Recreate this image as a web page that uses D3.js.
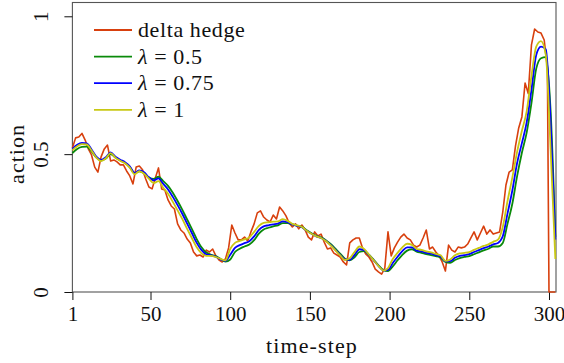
<!DOCTYPE html>
<html>
<head>
<meta charset="utf-8">
<script src="https://cdn.jsdelivr.net/npm/d3@7/dist/d3.min.js"></script>
<style>
  html, body { margin: 0; padding: 0; background: #fff; }
  svg { display: block; }
  svg text { font-family: "Liberation Serif", "DejaVu Serif", serif; fill: #111; }
</style>
</head>
<body>
<svg id="chart" width="564" height="363"></svg>
<script>
// Hedge action over time-steps: delta hedge vs. learned policies for several λ.
const seriesNames = ["delta hedge", "λ = 0.5", "λ = 0.75", "λ = 1"];
const seriesColors = ["#d8400e", "#0a8a0a", "#0000ff", "#c8c814"];

const xTicks = [1, 50, 100, 150, 200, 250, 300];
const yTicks = [0, 0.5, 1];
const yTickLabels = ["0", "0.5", "1"];

// delta hedge, sampled every 2 steps (t = 1, 3, ..., 299) then 300, 302, 304
const tDelta = d3.range(1, 300, 2).concat([300, 302, 304]);
const deltaHedge = [
  0.522, 0.559, 0.562, 0.575, 0.551, 0.519, 0.497, 0.453, 0.435, 0.490,
  0.519, 0.533, 0.475, 0.479, 0.472, 0.461, 0.461, 0.439, 0.421, 0.392,
  0.453, 0.457, 0.443, 0.410, 0.381, 0.374, 0.413, 0.450, 0.374, 0.370,
  0.334, 0.312, 0.301, 0.247, 0.225, 0.214, 0.192, 0.178, 0.145, 0.131,
  0.134, 0.127, 0.152, 0.145, 0.156, 0.131, 0.116, 0.109, 0.120, 0.160,
  0.243, 0.214, 0.189, 0.189, 0.199, 0.185, 0.218, 0.247, 0.287, 0.294,
  0.272, 0.261, 0.254, 0.279, 0.265, 0.308, 0.294, 0.276, 0.250, 0.236,
  0.247, 0.229, 0.243, 0.225, 0.199, 0.189, 0.218, 0.203, 0.210, 0.181,
  0.156, 0.160, 0.141, 0.134, 0.127, 0.109, 0.098, 0.178, 0.189, 0.196,
  0.196, 0.160, 0.138, 0.127, 0.109, 0.083, 0.073, 0.065, 0.087, 0.218,
  0.131, 0.160, 0.181, 0.199, 0.210, 0.196, 0.189, 0.170, 0.163, 0.170,
  0.196, 0.225, 0.156, 0.163, 0.145, 0.131, 0.109, 0.076, 0.170, 0.152,
  0.145, 0.163, 0.160, 0.163, 0.174, 0.196, 0.218, 0.189, 0.214, 0.239,
  0.210, 0.225, 0.210, 0.214, 0.218, 0.290, 0.388, 0.435, 0.443, 0.530,
  0.595, 0.635, 0.758, 0.720, 0.896, 0.954, 0.943, 0.939, 0.914, 0.812,
  0.000, 0.000, 0.000
];

// learned policies, sampled every 3 steps (t = 1, 4, ..., 304)
const tPolicy = d3.range(1, 305, 3);
const lambda05 = [
  0.504, 0.519, 0.526, 0.527, 0.510, 0.488, 0.477, 0.484, 0.500, 0.488,
  0.477, 0.468, 0.453, 0.431, 0.438, 0.431, 0.415, 0.410, 0.418, 0.402,
  0.385, 0.360, 0.330, 0.298, 0.263, 0.228, 0.192, 0.162, 0.143, 0.135,
  0.130, 0.120, 0.110, 0.118, 0.145, 0.157, 0.165, 0.172, 0.188, 0.212,
  0.227, 0.233, 0.238, 0.242, 0.250, 0.250, 0.245, 0.241, 0.236, 0.224,
  0.213, 0.204, 0.198, 0.188, 0.174, 0.157, 0.139, 0.121, 0.115, 0.126,
  0.145, 0.148, 0.135, 0.117, 0.097, 0.080, 0.076, 0.093, 0.115, 0.135,
  0.150, 0.155, 0.146, 0.142, 0.137, 0.134, 0.130, 0.125, 0.109, 0.106,
  0.116, 0.123, 0.127, 0.130, 0.137, 0.144, 0.151, 0.157, 0.165, 0.165,
  0.178, 0.248, 0.320, 0.420, 0.505, 0.578, 0.685, 0.810, 0.848, 0.852,
  0.660, 0.200
];
const lambda075 = [
  0.519, 0.534, 0.541, 0.539, 0.517, 0.491, 0.479, 0.489, 0.506, 0.491,
  0.480, 0.471, 0.456, 0.432, 0.441, 0.434, 0.416, 0.405, 0.412, 0.392,
  0.372, 0.345, 0.315, 0.283, 0.248, 0.213, 0.178, 0.152, 0.137, 0.133,
  0.128, 0.118, 0.113, 0.135, 0.160, 0.170, 0.177, 0.184, 0.202, 0.225,
  0.238, 0.242, 0.245, 0.248, 0.256, 0.253, 0.245, 0.240, 0.235, 0.222,
  0.211, 0.202, 0.196, 0.186, 0.171, 0.153, 0.135, 0.118, 0.117, 0.135,
  0.155, 0.152, 0.135, 0.115, 0.095, 0.078, 0.080, 0.105, 0.128, 0.148,
  0.162, 0.162, 0.150, 0.147, 0.142, 0.139, 0.134, 0.129, 0.111, 0.112,
  0.124, 0.131, 0.134, 0.137, 0.145, 0.152, 0.159, 0.165, 0.173, 0.178,
  0.202, 0.285, 0.368, 0.468, 0.540, 0.615, 0.733, 0.860, 0.890, 0.880,
  0.620, 0.190
];
const lambda1 = [
  0.514, 0.529, 0.536, 0.535, 0.513, 0.487, 0.475, 0.485, 0.504, 0.487,
  0.476, 0.467, 0.451, 0.427, 0.438, 0.429, 0.411, 0.395, 0.402, 0.378,
  0.356, 0.327, 0.296, 0.264, 0.229, 0.195, 0.162, 0.140, 0.131, 0.131,
  0.127, 0.120, 0.115, 0.156, 0.178, 0.185, 0.191, 0.198, 0.218, 0.240,
  0.251, 0.253, 0.255, 0.256, 0.264, 0.258, 0.247, 0.242, 0.236, 0.222,
  0.211, 0.202, 0.196, 0.185, 0.169, 0.151, 0.133, 0.116, 0.122, 0.145,
  0.165, 0.156, 0.136, 0.115, 0.095, 0.078, 0.087, 0.120, 0.142, 0.162,
  0.175, 0.171, 0.156, 0.153, 0.147, 0.144, 0.138, 0.133, 0.113, 0.118,
  0.133, 0.140, 0.142, 0.145, 0.153, 0.160, 0.167, 0.173, 0.182, 0.190,
  0.236, 0.330, 0.415, 0.508, 0.585, 0.655, 0.783, 0.890, 0.910, 0.860,
  0.520, 0.120
];

const FONT = "'Liberation Serif', 'DejaVu Serif', serif";
const svg = d3.select("#chart");

const x = d3.scaleLinear().domain([1, 304.4]).range([72.4, 556]);
const y = d3.scaleLinear().domain([0, 1.05]).range([292, 2.5]);

// frame
svg.append("rect")
  .attr("x", x.range()[0]).attr("y", y.range()[1])
  .attr("width", x.range()[1] - x.range()[0])
  .attr("height", y.range()[0] - y.range()[1])
  .attr("fill", "none").attr("stroke", "#555").attr("stroke-width", 1.1);

// x axis (ticks point outward)
const xAxis = d3.axisBottom(x).tickValues(xTicks).tickSize(8).tickPadding(6);
const gx = svg.append("g").attr("transform", `translate(0,${y(0)})`).call(xAxis)
  .attr("font-family", FONT).attr("font-size", 21);
gx.select(".domain").remove();
gx.selectAll(".tick line").attr("stroke", "#111").attr("stroke-width", 1);
gx.selectAll(".tick text").attr("fill", "#111");

// y axis with rotated labels
const yAxis = d3.axisLeft(y).tickValues(yTicks).tickSize(8).tickFormat((d, i) => yTickLabels[i]);
const gy = svg.append("g").attr("transform", `translate(${x(1)},0)`).call(yAxis)
  .attr("font-family", FONT).attr("font-size", 21);
gy.select(".domain").remove();
gy.selectAll(".tick line").attr("stroke", "#111").attr("stroke-width", 1);
gy.selectAll(".tick text")
  .attr("fill", "#111")
  .attr("x", null).attr("dy", null)
  .attr("text-anchor", "middle")
  .attr("transform", "translate(-24,0) rotate(-90)");

// axis titles
svg.append("text")
  .attr("x", 312).attr("y", 353)
  .attr("text-anchor", "middle").attr("font-size", 22).attr("font-family", FONT)
  .attr("letter-spacing", 1.1)
  .text("time-step");
svg.append("text")
  .attr("transform", "translate(24,154) rotate(-90)")
  .attr("text-anchor", "middle").attr("font-size", 22).attr("font-family", FONT)
  .attr("letter-spacing", 1)
  .text("action");

// series lines
const plotSeries = [
  { t: tDelta, v: deltaHedge, color: seriesColors[0], w: 1.6 },
  { t: tPolicy, v: lambda05, color: seriesColors[1], w: 1.8 },
  { t: tPolicy, v: lambda075, color: seriesColors[2], w: 1.8 },
  { t: tPolicy, v: lambda1, color: seriesColors[3], w: 1.8 }
];
const line = d3.line().x(d => x(d[0])).y(d => y(d[1]));
const smooth = d3.line().x(d => x(d[0])).y(d => y(d[1])).curve(d3.curveMonotoneX);

plotSeries.forEach((s, i) => {
  const pts = s.t.map((t, k) => [t, s.v[k]]);
  svg.append("path")
    .datum(pts)
    .attr("d", i === 0 ? line : smooth)
    .attr("fill", "none")
    .attr("stroke", s.color)
    .attr("stroke-width", s.w)
    .attr("stroke-linejoin", "round");
});

// legend
const legend = svg.append("g").attr("font-family", FONT).attr("font-size", 22);
seriesNames.forEach((name, i) => {
  const cy = 30 + i * 26.6;
  legend.append("line")
    .attr("x1", 94).attr("x2", 132).attr("y1", cy).attr("y2", cy)
    .attr("stroke", seriesColors[i]).attr("stroke-width", 1.8);
  const txt = legend.append("text").attr("x", 138).attr("y", cy + 7)
    .attr("letter-spacing", 0.6);
  if (name.startsWith("λ")) {
    txt.append("tspan").attr("font-style", "italic").text("λ");
    txt.append("tspan").text(name.slice(1));
  } else {
    txt.text(name);
  }
});
</script>
</body>
</html>
